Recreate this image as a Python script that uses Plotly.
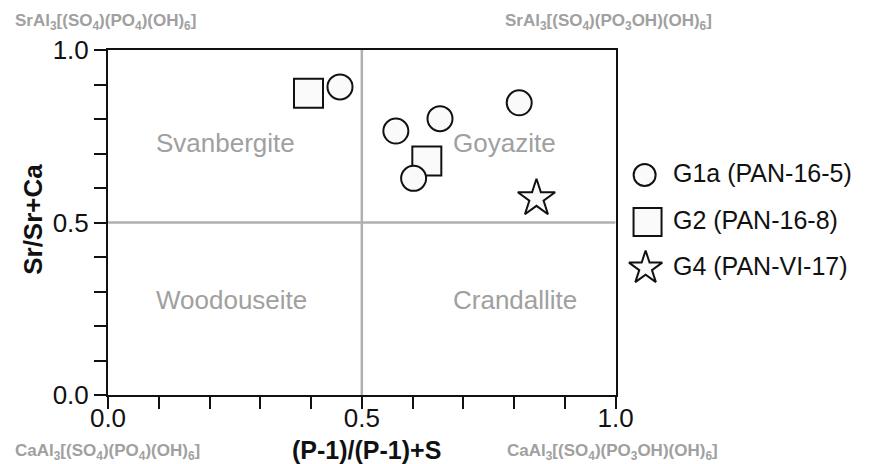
import plotly.graph_objects as go

# Data
g1a_x = [0.457, 0.567, 0.654, 0.810, 0.602]
g1a_y = [0.893, 0.765, 0.801, 0.847, 0.628]
g2_x = [0.395, 0.628]
g2_y = [0.875, 0.678]
g4_x = [0.844]
g4_y = [0.570]
series_names = ["G1a (PAN-16-5)", "G2 (PAN-16-8)", "G4 (PAN-VI-17)"]
region_labels = ["Svanbergite", "Goyazite", "Woodouseite", "Crandallite"]
region_x = [0.231, 0.781, 0.244, 0.802]
region_y = [0.73, 0.73, 0.274, 0.274]
tick_vals = [round(i * 0.1, 1) for i in range(11)]
tick_text = ["0.0", "", "", "", "", "0.5", "", "", "", "", "1.0"]

W, H = 875, 464
L, T = 108, 50
PLOT_W, PLOT_H = 520, 345
R = 8
B = H - T - PLOT_H
PW = W - L - R
PH = H - T - B
main_frac = PLOT_W / PW


def px(xs):
    return (xs - L) / PW


def py(ys):
    return (H - B - ys) / PH


FONT = "Liberation Sans, Arial, sans-serif"
GRAY = "#a0a0a0"
FILL = "#fafafa"
LINE = dict(color="#111111", width=2)

fig = go.Figure()

# quadrant lines
fig.add_shape(type="line", x0=0.5, x1=0.5, y0=0, y1=1, xref="x", yref="y",
              line=dict(color="#b0b0b0", width=2.5), layer="below")
fig.add_shape(type="line", x0=0, x1=1, y0=0.5, y1=0.5, xref="x", yref="y",
              line=dict(color="#b0b0b0", width=2.5), layer="below")

fig.add_trace(go.Scatter(x=g2_x, y=g2_y, mode="markers", name=series_names[1],
                         marker=dict(symbol="square", size=29, color=FILL, line=LINE),
                         showlegend=False))
fig.add_trace(go.Scatter(x=g1a_x, y=g1a_y, mode="markers", name=series_names[0],
                         marker=dict(symbol="circle", size=25, color=FILL, line=LINE),
                         showlegend=False))
fig.add_trace(go.Scatter(x=g4_x, y=g4_y, mode="markers", name=series_names[2],
                         marker=dict(symbol="star", size=28, color=FILL, line=LINE),
                         showlegend=False))

# manual legend on a helper axis (pixel units)
leg_sym = ["circle", "square", "star"]
leg_size = [22, 28, 25]
leg_x = [657, 660, 658]
leg_y = [175, 222, 268]
for s, sz, lx, ly, nm in zip(leg_sym, leg_size, leg_x, leg_y, series_names):
    fig.add_trace(go.Scatter(x=[lx], y=[ly], mode="markers", xaxis="x2", yaxis="y2",
                             marker=dict(symbol=s, size=sz, color=FILL, line=LINE),
                             showlegend=False, hoverinfo="skip"))
    fig.add_annotation(x=px(685), y=py(ly - 2), xref="paper", yref="paper",
                       text=nm, showarrow=False, xanchor="left", yanchor="middle",
                       font=dict(size=25, color="#111111", family=FONT))

for lab, rx, ry in zip(region_labels, region_x, region_y):
    fig.add_annotation(x=rx, y=ry, xref="x", yref="y", text=lab, showarrow=False,
                       xanchor="center", yanchor="middle",
                       font=dict(size=26, color=GRAY, family=FONT))

# corner formulas
corner = [
    ("<b>SrAl<sub>3</sub>[(SO<sub>4</sub>)(PO<sub>4</sub>)(OH)<sub>6</sub>]</b>", 11, 22),
    ("<b>SrAl<sub>3</sub>[(SO<sub>4</sub>)(PO<sub>3</sub>OH)(OH)<sub>6</sub>]</b>", 513, 22),
    ("<b>CaAl<sub>3</sub>[(SO<sub>4</sub>)(PO<sub>4</sub>)(OH)<sub>6</sub>]</b>", 11, 452),
    ("<b>CaAl<sub>3</sub>[(SO<sub>4</sub>)(PO<sub>3</sub>OH)(OH)<sub>6</sub>]</b>", 515, 452),
]
for txt, cx, cy in corner:
    fig.add_annotation(x=px(cx), y=py(cy), xref="paper", yref="paper", text=txt,
                       showarrow=False, xanchor="left", yanchor="middle",
                       font=dict(size=17, color=GRAY, family=FONT))

# axis titles
fig.add_annotation(x=px(31), y=py(219), xref="paper", yref="paper",
                   text="<b>Sr/Sr+Ca</b>", textangle=-90, showarrow=False,
                   xanchor="center", yanchor="middle",
                   font=dict(size=26, color="#111111", family=FONT))
fig.add_annotation(x=px(373), y=py(450), xref="paper", yref="paper",
                   text="<b>(P-1)/(P-1)+S</b>", showarrow=False,
                   xanchor="center", yanchor="middle",
                   font=dict(size=25, color="#111111", family=FONT))

axis_common = dict(range=[0, 1], tickmode="array", tickvals=tick_vals, ticktext=tick_text,
                   ticks="outside", ticklen=12, tickwidth=1.5, tickcolor="#111111",
                   showline=True, linecolor="#111111", linewidth=2, mirror=True,
                   showgrid=False, zeroline=False,
                   tickfont=dict(size=26, color="#111111", family=FONT))

fig.update_layout(
    width=W, height=H,
    margin=dict(l=L, r=R, t=T, b=B),
    paper_bgcolor="white", plot_bgcolor="white",
    font=dict(family=FONT),
    xaxis=dict(domain=[0, main_frac], ticklabelstandoff=-13, **axis_common),
    yaxis=dict(domain=[0, 1], **axis_common),
    xaxis2=dict(domain=[main_frac + 0.001, 1], range=[L + PLOT_W, W - R],
                visible=False, anchor="y2", fixedrange=True),
    yaxis2=dict(domain=[0, 1], range=[T + PLOT_H, T], visible=False, anchor="x2",
                fixedrange=True),
    showlegend=False,
)

fig.write_html("out.html",
               config={"displayModeBar": False},
               post_script="document.body.style.margin='0px';"
                           "document.body.style.overflow='hidden';")
